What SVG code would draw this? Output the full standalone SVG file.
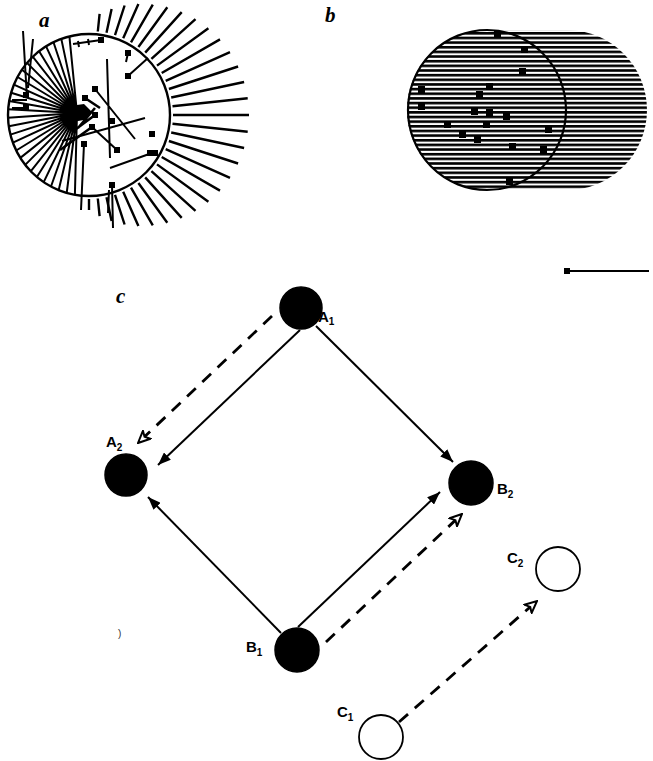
<svg xmlns="http://www.w3.org/2000/svg" width="653" height="761" viewBox="0 0 653 761">
<style>
.lbl{font-family:"Liberation Sans",Arial,sans-serif;font-weight:bold;font-size:15px;fill:#000}
.sub{font-size:10px}
.pl{font-family:"Liberation Serif","Times New Roman",serif;font-style:italic;font-weight:bold;font-size:21px;fill:#000}
.node{fill:#000;stroke:#000;stroke-width:1.5}
.solid{fill:none;stroke:#000;stroke-width:2}
.dash{fill:none;stroke:#000;stroke-width:2.8;stroke-dasharray:12 9}
.hl{stroke:#000;stroke-width:2;fill:none}
.dot{fill:#000}
</style>
<defs>
<marker id="ah" markerUnits="userSpaceOnUse" viewBox="0 0 13 10" refX="13" refY="5" markerWidth="13" markerHeight="10" orient="auto">
<path d="M0,0 L13,5 L0,10 Z" fill="#000"/>
</marker>
<marker id="oh" markerUnits="userSpaceOnUse" viewBox="-1 -1 14 13" refX="12" refY="5.5" markerWidth="14" markerHeight="13" orient="auto">
<path d="M0,0 L12,5.5 L0,11 L3,5.5 Z" fill="#fff" stroke="#000" stroke-width="2" stroke-linejoin="miter"/>
</marker>
<pattern id="stripes" patternUnits="userSpaceOnUse" x="0" y="32" width="653" height="4.65">
<rect x="0" y="0" width="653" height="2.6" fill="#000"/>
</pattern>
<clipPath id="stad">
<path d="M487,30 L567,30 A80,80 0 0 1 567,190 L487,190 A80,80 0 0 1 487,30 Z"/>
</clipPath>
</defs>

<!-- panel a -->
<g id="panel-a">
<text class="pl" x="39" y="27">a</text>
<circle cx="89" cy="115" r="81" fill="none" stroke="#000" stroke-width="2.4"/>
<g class="hl">
<path d="M77,113 L74.9,194.8 M77,113 L66.7,192.9 M77,113 L58.7,190.1 M77,113 L51,186.5 M77,113 L43.7,182.1 M77,113 L36.9,177 M77,113 L30.7,171.3 M77,113 L25.2,164.9 M77,113 L20.3,157.9 M77,113 L16.2,150.5 M77,113 L12.9,142.7 M77,113 L10.4,134.6 M77,113 L8.8,126.3 M77,113 L8,117.8 M77,113 L8.2,109.3 M77,113 L9.2,100.9 M77,113 L11.1,92.7 M77,113 L13.9,84.7 M77,113 L17.5,77 M77,113 L21.9,69.7 M77,113 L27,62.9 M77,113 L32.7,56.7 M77,113 L39.1,51.2 M77,113 L46.1,46.3 M77,113 L53.5,42.2 M77,113 L61.3,38.9 M77,113 L69.4,36.4"/>
<path stroke-width="2.4" d="M97.8,31.5 L99.6,13.8 M106.5,32.8 L111.6,8.9 M115,35.1 L124.6,5.5 M123.2,38.3 L138.4,4.1 M131,42.3 L152.8,4.6 M138.4,47 L167.3,7.2 M145.2,52.6 L181.7,12.1 M151.4,58.8 L195.5,19.1 M157,65.6 L208.4,28.2 M161.7,73 L220,39.4 M165.7,80.8 L230,52.2 M168.9,89 L238.1,66.5 M171.2,97.5 L244.1,82 M172.5,106.2 L247.7,98.3 M173,115 L249,115 M172.5,123.8 L247.7,131.7 M171.2,132.5 L244.1,148 M168.9,141 L238.1,163.5 M165.7,149.2 L230,177.8 M161.7,157 L220,190.6 M157,164.4 L208.4,201.8 M151.4,171.2 L195.5,210.9 M145.2,177.4 L181.7,217.9 M138.4,183 L167.3,222.8 M131,187.7 L152.8,225.4 M123.2,191.7 L138.4,225.9 M115,194.9 L124.6,224.5 M106.5,197.2 L111.6,221.1 M97.8,198.5 L99.6,216.2 M89,199 L89,210"/>
<path d="M23,31 L27,98 M33,39 L28,88 M12,100 L27,100 M12,108 L27,108"/>
<path d="M73,44 L101,40 M78,41 L79,47 M88,39 L89,45 M128,53 L126,62 M128,76 L148,58 M95,89 L135,139 M107,59 L110,158 M62,141 L145,118 M92,127 L117,150 M152,153 L110,168 M84,144 L81,210 M112,185 L113,228 M109,190 L108,213"/>
<path d="M85,98 L100,108 M95,108 L78,128 M95,115 L72,132 M92,127 L60,150" stroke-width="2.6"/>
</g>
<path d="M70,106 L84,104 L92,112 L84,120 L72,122 Z" fill="#000"/>
<g class="dot">
<rect x="98" y="37" width="6" height="6"/>
<rect x="125" y="50" width="6" height="6"/>
<rect x="125" y="73" width="6" height="6"/>
<rect x="92" y="86" width="6" height="6"/>
<rect x="82" y="95" width="6" height="6"/>
<rect x="92" y="112" width="6" height="6"/>
<rect x="109" y="118" width="6" height="6"/>
<rect x="89" y="124" width="6" height="6"/>
<rect x="149" y="131" width="6" height="6"/>
<rect x="81" y="141" width="6" height="6"/>
<rect x="114" y="147" width="6" height="6"/>
<rect x="147" y="150" width="11" height="6"/>
<rect x="109" y="182" width="6" height="6"/>
<rect x="23" y="92" width="6" height="6"/>
<rect x="23" y="104" width="6" height="6"/>
</g>
</g>

<!-- panel b -->
<g id="panel-b">
<text class="pl" x="325" y="22">b</text>
<rect x="400" y="28" width="253" height="164" fill="url(#stripes)" clip-path="url(#stad)"/>
<ellipse cx="487" cy="110" rx="79" ry="80" fill="none" stroke="#000" stroke-width="2.2"/>
<g class="dot">
<rect x="521" y="46" width="7" height="7"/>
<rect x="519" y="68" width="7" height="7"/>
<rect x="486" y="83" width="7" height="7"/>
<rect x="418" y="86" width="7" height="7"/>
<rect x="476" y="91" width="7" height="7"/>
<rect x="418" y="103" width="7" height="7"/>
<rect x="471" y="108" width="7" height="7"/>
<rect x="486" y="109" width="7" height="7"/>
<rect x="503" y="113" width="7" height="7"/>
<rect x="444" y="121" width="7" height="7"/>
<rect x="483" y="121" width="7" height="7"/>
<rect x="459" y="131" width="7" height="7"/>
<rect x="474" y="136" width="7" height="7"/>
<rect x="545" y="126" width="7" height="7"/>
<rect x="509" y="143" width="7" height="7"/>
<rect x="540" y="146" width="7" height="7"/>
<rect x="494" y="31" width="7" height="7"/>
<rect x="506" y="178" width="7" height="7"/>
</g>
</g>

<!-- scale bar -->
<g id="scale-bar">
<rect x="564" y="268" width="6" height="6" fill="#000"/>
<line x1="567" y1="271" x2="649" y2="271" stroke="#000" stroke-width="2"/>
</g>

<text class="pl" x="116" y="303">c</text>
<text x="118" y="637" font-family="Liberation Sans, sans-serif" font-size="10" fill="#333">)</text>

<!-- connectors -->
<g id="connectors">
<path class="solid" d="M300,330 L158,465" marker-end="url(#ah)"/>
<path class="dash" d="M272,316 L138,443" marker-end="url(#oh)"/>
<path class="solid" d="M316,326 L453,462" marker-end="url(#ah)"/>
<path class="solid" d="M281,633 L148,497" marker-end="url(#ah)"/>
<path class="solid" d="M298,627 L440,492" marker-end="url(#ah)"/>
<path class="dash" d="M326,642 L462,514" marker-end="url(#oh)"/>
<path class="dash" d="M399,722 L537,601" marker-end="url(#oh)"/>
</g>

<!-- nodes -->
<g id="A1">
<circle class="node" cx="301" cy="308" r="21"/>
<text class="lbl" x="318" y="322">A<tspan class="sub" dy="3">1</tspan></text>
</g>
<g id="A2">
<circle class="node" cx="126" cy="475" r="21"/>
<text class="lbl" x="106" y="447">A<tspan class="sub" dy="4">2</tspan></text>
</g>
<g id="B2">
<circle class="node" cx="471" cy="483" r="22"/>
<text class="lbl" x="497" y="494">B<tspan class="sub" dy="4">2</tspan></text>
</g>
<g id="B1">
<circle class="node" cx="297" cy="650" r="22"/>
<text class="lbl" x="246" y="652">B<tspan class="sub" dy="4">1</tspan></text>
</g>
<g id="C2">
<circle cx="558" cy="569" r="22" fill="#fff" stroke="#000" stroke-width="1.8"/>
<text class="lbl" x="507" y="563">C<tspan class="sub" dy="4">2</tspan></text>
</g>
<g id="C1">
<circle cx="381" cy="737" r="22" fill="#fff" stroke="#000" stroke-width="1.8"/>
<text class="lbl" x="337" y="717">C<tspan class="sub" dy="4">1</tspan></text>
</g>
</svg>
